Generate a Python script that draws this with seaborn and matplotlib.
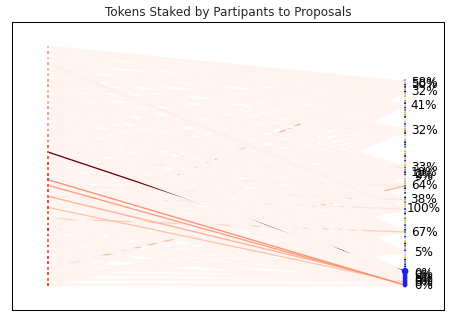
import numpy as np
import pandas as pd
import matplotlib
matplotlib.use("Agg")
import matplotlib.pyplot as plt
import seaborn as sns

# ---------------- data ----------------
n_participants = 44
participant_balance = [3, 4, 3, 4, 3, 3, 4, 4, 3, 4, 3, 4, 4, 3, 4, 4, 5, 5, 6, 7,
                       6, 7, 6, 7, 7, 6, 7, 6, 7, 7, 6, 7, 6, 8, 7, 6, 7, 6, 7, 7,
                       6, 7, 6, 7]

# proposal status codes: k=active, b=open, l=pending, o=funded, y=queued, g=passed, s=closed
proposal_status = list("slbksklo"
                       "ysklbgos"
                       "kylbsogk"
                       "lyskbgyo"
                       "sklbyogs"
                       "kbylsogk"
                       "lbyksgol"
                       "bskygolb"
                       "skglbyok"
                       "gsbylokg"
                       "bkkbbbbbbb")
n_proposals = len(proposal_status)

proposal_labels = {1: "58%", 2: "50%", 5: "32%", 11: "41%", 22: "32%",
                   38: "33%", 40: "10%", 41: "2%", 42: "9%", 46: "64%",
                   52: "38%", 56: "100%", 66: "67%", 75: "5%",
                   84: "0%", 85: "0%", 86: "6%", 87: "0%", 88: "0%", 89: "0%"}

# (participant, proposal, tokens staked)
stakes = [
    (0, 1, 60), (0, 5, 40), (0, 11, 30), (0, 22, 20),
    (1, 1, 40), (1, 2, 50), (1, 11, 30), (1, 38, 20),
    (2, 2, 30), (2, 5, 40), (2, 22, 25), (2, 46, 20),
    (3, 1, 30), (3, 11, 40), (3, 40, 20), (3, 56, 120),
    (4, 2, 40), (4, 5, 30), (4, 22, 30), (4, 52, 20),
    (5, 5, 30), (5, 11, 20), (5, 38, 30), (5, 66, 20),
    (6, 1, 20), (6, 22, 40), (6, 41, 30), (6, 75, 20),
    (7, 2, 30), (7, 11, 30), (7, 46, 30), (7, 84, 20),
    (8, 5, 20), (8, 22, 30), (8, 40, 30), (8, 56, 30),
    (9, 11, 30), (9, 38, 20), (9, 52, 30), (9, 85, 30),
    (10, 1, 30), (10, 22, 20), (10, 42, 30), (10, 66, 30),
    (11, 5, 30), (11, 40, 30), (11, 56, 20), (11, 86, 20),
    (12, 2, 20), (12, 11, 40), (12, 46, 30), (12, 75, 30),
    (13, 22, 30), (13, 38, 30), (13, 52, 20), (13, 87, 30),
    (14, 1, 20), (14, 41, 30), (14, 66, 30), (14, 88, 20),
    (15, 5, 30), (15, 40, 20), (15, 56, 30), (15, 84, 30),
    (16, 11, 30), (16, 42, 30), (16, 75, 20), (16, 89, 20),
    (17, 2, 30), (17, 38, 30), (17, 52, 30), (17, 85, 20),
    (18, 22, 30), (18, 46, 20), (18, 66, 30), (18, 86, 30),
    (19, 83, 5000), (19, 1, 30), (19, 40, 30), (19, 56, 20),
    (20, 5, 20), (20, 41, 30), (20, 75, 30), (20, 87, 20),
    (21, 11, 30), (21, 38, 400), (21, 52, 30), (21, 88, 30),
    (22, 2, 20), (22, 42, 30), (22, 66, 20), (22, 84, 30),
    (23, 22, 30), (23, 46, 300), (23, 56, 30), (23, 89, 30),
    (24, 89, 1900), (24, 1, 20), (24, 40, 30), (24, 75, 20),
    (25, 89, 1700), (25, 5, 30), (25, 38, 30), (25, 52, 350),
    (26, 11, 20), (26, 41, 30), (26, 66, 30), (26, 85, 30),
    (27, 88, 1400), (27, 22, 30), (27, 46, 20), (27, 56, 500),
    (28, 2, 20), (28, 40, 30), (28, 75, 30), (28, 87, 30),
    (29, 88, 1100), (29, 1, 20), (29, 38, 30), (29, 52, 30),
    (30, 5, 20), (30, 42, 30), (30, 66, 30), (30, 89, 20),
    (31, 66, 900), (31, 11, 30), (31, 46, 30), (31, 84, 20),
    (32, 22, 20), (32, 40, 30), (32, 56, 30), (32, 88, 30),
    (33, 0, 1800), (33, 2, 30), (33, 38, 20), (33, 75, 30),
    (34, 1, 20), (34, 41, 30), (34, 52, 30), (34, 85, 30),
    (35, 5, 30), (35, 46, 20), (35, 66, 30), (35, 86, 20),
    (36, 11, 20), (36, 38, 30), (36, 56, 30), (36, 87, 30),
    (37, 22, 30), (37, 40, 30), (37, 75, 20), (37, 89, 30),
    (38, 2, 20), (38, 42, 30), (38, 52, 30), (38, 84, 30),
    (39, 1, 30), (39, 46, 30), (39, 66, 20), (39, 88, 20),
    (40, 46, 1300), (40, 5, 30), (40, 56, 30), (40, 85, 30),
    (41, 11, 30), (41, 38, 30), (41, 75, 30), (41, 86, 30),
    (42, 22, 30), (42, 40, 20), (42, 66, 30), (42, 87, 30),
    (43, 1, 20), (43, 52, 30), (43, 89, 40), (43, 56, 30),
]

status_colors = {"k": "#111111", "b": "#2020ee", "l": "#b8b8f0", "o": "#ffa500",
                 "y": "#ffe0a0", "g": "#2e8b57", "s": "#a0a0a0"}

# ---------------- layout (bipartite columns) ----------------
participants = pd.DataFrame({"x": 0.0, "y": np.arange(n_participants, dtype=float),
                             "balance": participant_balance})
prop_idx = np.arange(n_proposals)
proposals = pd.DataFrame({"x": 1.0,
                          "y": 5.97 + prop_idx * (37.07 / (n_proposals - 1)),
                          "status": proposal_status,
                          "size": ["big" if i == 83 else ("mid" if i >= 84 else "small")
                                   for i in prop_idx]})

edges = pd.DataFrame(stakes, columns=["participant", "proposal", "tokens"])
# edges are drawn proposal by proposal (later edges paint over earlier ones)
edges = edges.sort_values(["proposal", "tokens"], kind="stable").reset_index(drop=True)

# ---------------- plot ----------------
sns.set_style("white")
plt.rcParams["font.family"] = ["DejaVu Sans"]
fig = plt.figure(figsize=(449 / 72, 321 / 72), dpi=72)
ax = fig.add_axes([12 / 449, 11 / 321, 432 / 449, 288 / 321])

cmap = plt.get_cmap("Reds")
norm = plt.Normalize(0, edges["tokens"].max())
for _, e in edges.iterrows():
    p = participants.iloc[int(e["participant"])]
    q = proposals.iloc[int(e["proposal"])]
    ax.plot([p["x"], q["x"]], [p["y"], q["y"]], color=cmap(norm(e["tokens"])),
            lw=2.8 if e["tokens"] < 200 else 1.3, solid_capstyle="butt", zorder=1)

sns.scatterplot(data=participants, x="x", y="y", hue="balance", palette="Reds",
                hue_norm=(0, 12), marker="s", s=8, linewidth=0, legend=False,
                ax=ax, zorder=3)
sns.scatterplot(data=proposals, x="x", y="y", hue="status", palette=status_colors,
                size="size", sizes={"small": 4, "mid": 22, "big": 45},
                marker="o", linewidth=0, legend=False, ax=ax, zorder=3)

for idx, lab in proposal_labels.items():
    ax.text(proposals.loc[idx, "x"] + 0.053, proposals.loc[idx, "y"], lab,
            fontsize=12, ha="center", va="center", color="black", zorder=4)

ax.set_xlim(-0.1008, 1.109)
ax.set_ylim(47.56, -4.52)
ax.set_xticks([])
ax.set_yticks([])
ax.set_xlabel("")
ax.set_ylabel("")
for sp in ax.spines.values():
    sp.set_color("black")
    sp.set_linewidth(1.0)
ax.set_title("Tokens Staked by Partipants to Proposals", fontsize=12)

fig.savefig("out.png", dpi=72)
